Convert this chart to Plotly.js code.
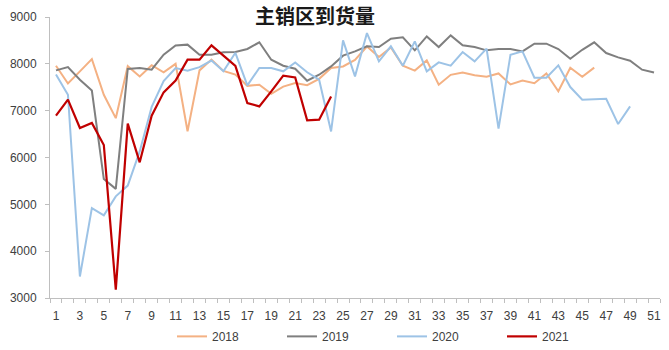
<!DOCTYPE html>
<html>
<head>
<meta charset="utf-8">
<script src="https://cdn.plot.ly/plotly-3.0.1.min.js"></script>
<style>html,body{margin:0;padding:0;background:#fff;}#chart{width:669px;height:350px;}</style>
</head>
<body>
<div id="chart"></div>
<script>
const title = "主销区到货量";
const seriesNames = ["2018", "2019", "2020", "2021"];
const weeks = Array.from({length: 51}, (_, i) => i + 1);
const xTickVals = [1,3,5,7,9,11,13,15,17,19,21,23,25,27,29,31,33,35,37,39,41,43,45,47,49,51];

const v2018 = [7960,7580,7840,8100,7340,6840,7950,7730,7970,7820,8000,6560,7860,8090,7850,7770,
  7530,7555,7360,7515,7590,7545,7680,7910,7945,8085,8370,8145,8350,7960,7855,8073,7555,
  7765,7815,7755,7725,7795,7560,7645,7585,7795,7415,7915,7725,7918];
const v2019 = [7860,7930,7660,7430,5540,5330,7890,7910,7875,8195,8390,8410,8195,8195,8245,8255,
  8317,8460,8088,7960,7896,7640,7768,7945,8174,8265,8373,8359,8537,8566,8288,8586,8359,
  8608,8395,8359,8288,8317,8317,8266,8430,8430,8317,8110,8300,8459,8231,8138,8067,7875,7817];
const v2020 = [7770,7340,3460,4920,4765,5170,5400,6130,7080,7630,7910,7855,7930,8070,7840,8235,
  7540,7910,7910,7840,8030,7820,7661,6557,8502,7732,8658,8052,8373,7960,8480,7840,8032,
  7960,8252,8052,8324,6616,8195,8266,7704,7704,7967,7504,7234,7241,7255,6714,7091];
const v2021 = [6893,7235,6630,6737,6267,3178,6722,5897,6893,7391,7641,8089,8089,8395,8174,7955,
  7163,7091,7411,7747,7711,6792,6807,7304];

const allValues = [v2018, v2019, v2020, v2021];
const colors = ["#F4B183", "#7F7F7F", "#9DC3E6", "#C00000"];
const widths = [2, 2, 2, 2.2];

const traces = allValues.map((vals, i) => ({
  type: "scatter",
  mode: "lines",
  name: seriesNames[i],
  x: weeks.slice(0, vals.length),
  y: vals,
  line: {color: colors[i], width: widths[i]},
  hoverinfo: "x+y+name"
}));

const axisFont = {family: "Liberation Sans, Arial, sans-serif", size: 12, color: "#404040"};

const layout = {
  width: 669,
  height: 350,
  paper_bgcolor: "#ffffff",
  plot_bgcolor: "#ffffff",
  margin: {l: 50, r: 9, t: 17, b: 52, autoexpand: false},
  title: {
    text: title,
    font: {family: "Noto Sans CJK SC, sans-serif", size: 20, color: "#1a1a1a", weight: "bold"},
    x: 0.471, xref: "container", xanchor: "center",
    y: 0.952, yref: "container", yanchor: "middle"
  },
  showlegend: true,
  legend: {
    orientation: "h",
    x: 0.2, xanchor: "left",
    y: -0.085, yanchor: "top",
    font: {family: "Liberation Sans, Arial, sans-serif", size: 12, color: "#404040"},
    entrywidth: 65, entrywidthmode: "pixels",
    bgcolor: "rgba(0,0,0,0)"
  },
  xaxis: {
    range: [0.5, 51.5],
    tickmode: "array",
    tickvals: xTickVals,
    ticktext: xTickVals.map(String),
    ticks: "",
    ticklabelstandoff: 7,
    showgrid: false,
    zeroline: false,
    showline: true,
    linecolor: "#BFBFBF",
    linewidth: 1,
    tickfont: axisFont,
    minor: {tickmode: "linear", tick0: 0.5, dtick: 1, ticks: "outside", ticklen: 4, tickcolor: "#BFBFBF", showgrid: false},
    fixedrange: true
  },
  yaxis: {
    range: [3000, 9000],
    tickmode: "linear",
    tick0: 3000,
    dtick: 1000,
    ticks: "outside",
    ticklen: 4,
    tickcolor: "#BFBFBF",
    showgrid: false,
    zeroline: false,
    showline: true,
    linecolor: "#BFBFBF",
    linewidth: 1,
    tickfont: axisFont,
    ticklabelstandoff: 6,
    fixedrange: true
  }
};

Plotly.newPlot("chart", traces, layout, {displayModeBar: false, staticPlot: true});
</script>
</body>
</html>
